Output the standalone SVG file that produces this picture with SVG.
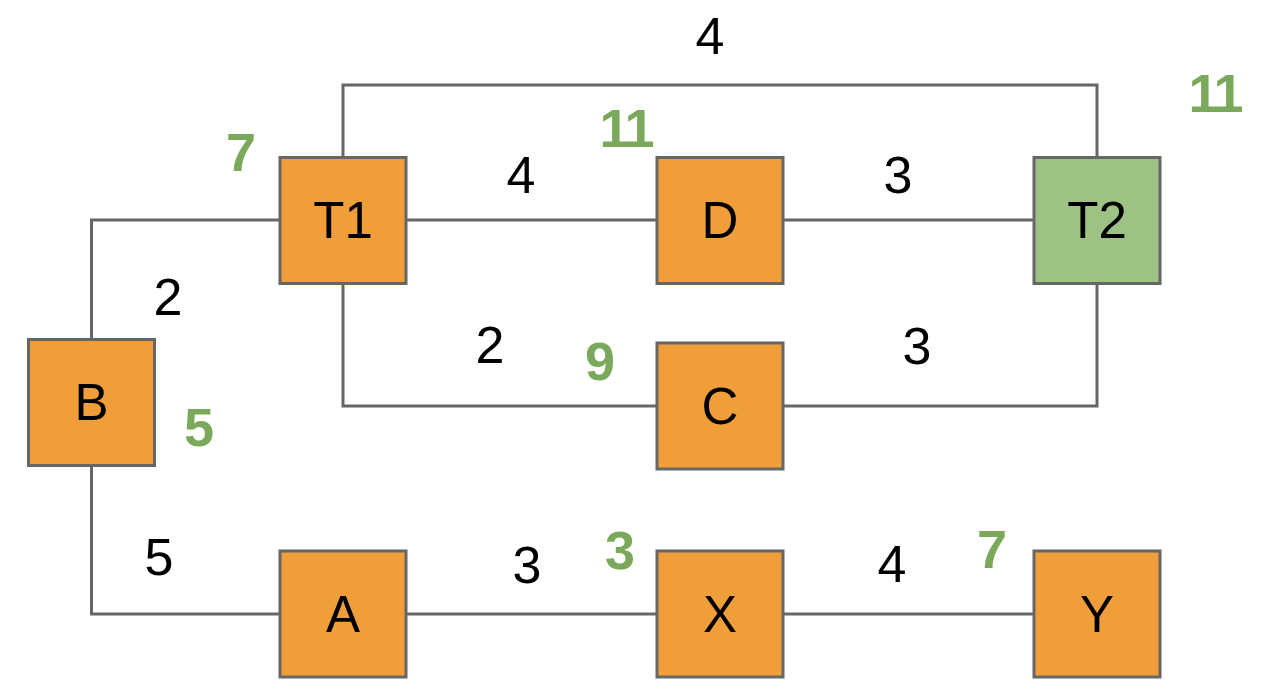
<svg xmlns="http://www.w3.org/2000/svg" width="1266" height="694" viewBox="0 0 1266 694">
<style>
.node{fill:#F09E3A;stroke:#666666;stroke-width:3}
.goal{fill:#9DC284;stroke:#666666;stroke-width:3}
.nt{font-family:"Liberation Sans",Arial,sans-serif;font-size:51px;fill:#000;text-anchor:middle}
.w{font-family:"Liberation Sans",Arial,sans-serif;font-size:52px;fill:#000;text-anchor:middle}
.g{font-family:"Liberation Sans",Arial,sans-serif;font-size:54px;font-weight:bold;fill:#7AA95C;text-anchor:middle;letter-spacing:-2px}
.c{fill:none;stroke:#666666;stroke-width:3}
</style>
<rect width="1266" height="694" fill="#ffffff"/>
<g id="connectors">
<polyline class="c" points="91.5,339 91.5,220 280,220"/>
<polyline class="c" points="91.5,466 91.5,614 280,614"/>
<polyline class="c" points="406,220 657,220"/>
<polyline class="c" points="783,220 1034,220"/>
<polyline class="c" points="343,157 343,85 1097,85 1097,157"/>
<polyline class="c" points="343,284 343,406 657,406"/>
<polyline class="c" points="783,406 1097,406 1097,284"/>
<polyline class="c" points="406,614 657,614"/>
<polyline class="c" points="783,614 1034,614"/>
</g>
<g id="edge-labels">
<text class="w" x="710" y="54">4</text>
<text class="w" x="521" y="193">4</text>
<text class="w" x="898" y="193">3</text>
<text class="w" x="168" y="315">2</text>
<text class="w" x="490" y="363">2</text>
<text class="w" x="917" y="364">3</text>
<text class="w" x="159" y="575">5</text>
<text class="w" x="527" y="583">3</text>
<text class="w" x="892" y="582">4</text>
</g>
<g id="T1"><rect class="node" x="280" y="157.5" width="126" height="126"/><text class="nt" x="343" y="238">T1</text><text class="g" x="240" y="171">7</text></g>
<g id="D"><rect class="node" x="657" y="157.5" width="126" height="126"/><text class="nt" x="720" y="238">D</text><text class="g" x="626" y="147">11</text></g>
<g id="T2"><rect class="goal" x="1034" y="157.5" width="126" height="126"/><text class="nt" x="1097" y="238">T2</text><text class="g" x="1215" y="112">11</text></g>
<g id="B"><rect class="node" x="28.5" y="339.5" width="126" height="126"/><text class="nt" x="91.5" y="420">B</text><text class="g" x="198" y="446">5</text></g>
<g id="C"><rect class="node" x="657" y="343" width="126" height="126"/><text class="nt" x="720" y="424">C</text><text class="g" x="599" y="380">9</text></g>
<g id="A"><rect class="node" x="280" y="551" width="126" height="126"/><text class="nt" x="343" y="632">A</text></g>
<g id="X"><rect class="node" x="657" y="551" width="126" height="126"/><text class="nt" x="720" y="632">X</text><text class="g" x="619" y="569">3</text></g>
<g id="Y"><rect class="node" x="1034" y="551" width="126" height="126"/><text class="nt" x="1097" y="632">Y</text><text class="g" x="991" y="568">7</text></g>
</svg>
